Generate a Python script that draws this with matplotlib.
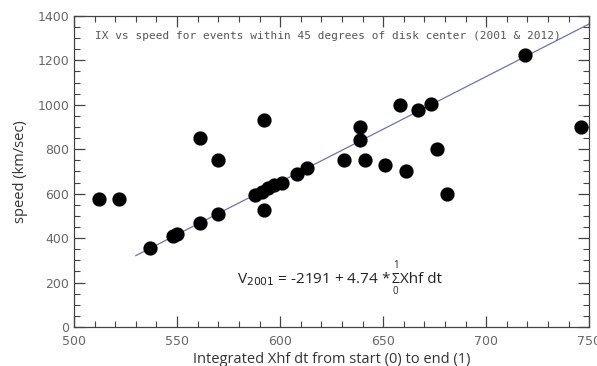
import matplotlib
matplotlib.use("Agg")
import matplotlib.pyplot as plt
import numpy as np
from matplotlib.ticker import MultipleLocator

ix = [512, 522, 537, 548, 550, 561, 570, 561, 570, 592,
      588, 591, 594, 597, 601, 608, 613, 592,
      631, 639, 639, 641, 651, 658, 661, 667, 673, 676, 681, 719, 746]
speed = [575, 575, 355, 408, 418, 470, 510, 850, 750, 930,
         595, 608, 625, 640, 650, 690, 715, 525,
         752, 840, 898, 752, 729, 1000, 700, 977, 1003, 802, 600, 1222, 900]

intercept = -2191
slope = 4.74
fit_x = [530, 750]

fig = plt.figure(figsize=(5.97, 3.66), dpi=100)
ax = fig.add_axes([0.124, 0.1066, 0.863, 0.85])

fx = np.array(fit_x, dtype=float)
ax.plot(fx, intercept + slope * fx, color="#7070b0", lw=0.9, zorder=1)
ax.scatter(ix, speed, s=105, color="black", zorder=2, linewidths=0)

ax.set_xlim(500, 750)
ax.set_ylim(0, 1400)
ax.xaxis.set_major_locator(MultipleLocator(50))
ax.xaxis.set_minor_locator(MultipleLocator(10))
ax.yaxis.set_major_locator(MultipleLocator(200))
ax.yaxis.set_minor_locator(MultipleLocator(50))
ax.tick_params(which="both", direction="in", top=True, right=True,
               colors="#444444", labelcolor="#666666", labelsize=9)
ax.tick_params(which="major", length=8, width=0.9)
ax.tick_params(which="minor", length=4, width=0.8)
ax.tick_params(axis="x", which="major", pad=6)
for s in ax.spines.values():
    s.set_color("#444444")
    s.set_linewidth(0.9)

ax.set_xlabel("Integrated Xhf dt from start (0) to end (1)", fontsize=10.5,
              family="Open Sans", color="#333333", labelpad=3)
ax.set_ylabel("speed (km/sec)", fontsize=10.5, family="Open Sans",
              color="#333333", labelpad=7)

ax.text(0.04, 0.95, "IX vs speed for events within 45 degrees of disk center (2001 & 2012)",
        transform=ax.transAxes, fontsize=8, family="DejaVu Sans Mono",
        color="#555555", va="top", ha="left")

# equation built in pieces so the sum sign stays text-sized with small limits
y0 = 0.14
eq_kw = dict(transform=ax.transAxes, fontsize=11, family="Open Sans",
             color="#222222", va="baseline")
t1 = ax.text(0.317, y0, r"V$_{2001}$ = -2191 + 4.74 * ", ha="left", **eq_kw)
fig.canvas.draw()
r = fig.canvas.get_renderer()
inv = ax.transAxes.inverted()
bb1 = t1.get_window_extent(r)
x1 = inv.transform((bb1.x1, 0))[0]
sig = ax.text(x1, y0, "\u03a3", ha="left", **{**eq_kw, "fontsize": 10})
fig.canvas.draw()
bbs = sig.get_window_extent(r)
xs0, ys_top = inv.transform((bbs.x0, bbs.y1))
xs1, ys_bot = inv.transform((bbs.x1, bbs.y0))
xc = (xs0 + xs1) / 2
ax.text(xc, ys_top + 0.005, "1", transform=ax.transAxes, fontsize=7,
        family="Open Sans", color="#222222", ha="center", va="bottom")
ax.text(xc, ys_bot + 0.005, "0", transform=ax.transAxes, fontsize=7,
        family="Open Sans", color="#222222", ha="center", va="top")
ax.text(xs1, y0, "Xhf dt", ha="left", **eq_kw)

fig.savefig("out.png", dpi=100, facecolor="white")
